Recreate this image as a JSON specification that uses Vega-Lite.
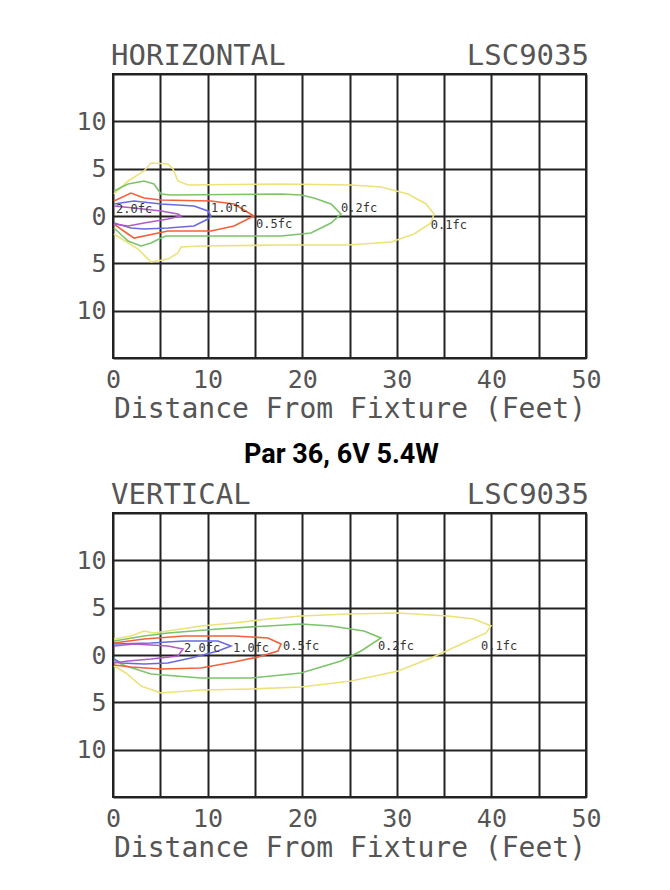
{
  "$schema": "https://vega.github.io/schema/vega-lite/v6.json",
  "background": "white",
  "padding": {"left": 74, "top": 41, "right": 10, "bottom": 10},
  "autosize": {"type": "pad"},
  "spacing": 155,
  "bounds": "flush",
  "config": {
    "view": {"stroke": "#222", "strokeWidth": 2},
    "axis": {"grid": true, "gridColor": "#222", "gridWidth": 2, "gridOpacity": 1, "domain": false, "ticks": false, "labelFont": "DejaVu Sans Mono", "labelFontSize": 25, "labelColor": "#555", "titleFont": "DejaVu Sans Mono", "titleFontSize": 28, "titleFontWeight": "normal", "titleColor": "#555"}
  },
  "datasets": {
    "h": [
      {"level":"0.1fc","i":0,"x":0.1,"y":2.33},{"level":"0.1fc","i":1,"x":1.59,"y":3.70},{"level":"0.1fc","i":2,"x":3.28,"y":4.76},{"level":"0.1fc","i":3,"x":4.02,"y":5.60},{"level":"0.1fc","i":4,"x":5.81,"y":5.50},{"level":"0.1fc","i":5,"x":6.34,"y":4.97},{"level":"0.1fc","i":6,"x":6.87,"y":3.70},{"level":"0.1fc","i":7,"x":7.93,"y":3.28},{"level":"0.1fc","i":8,"x":17.76,"y":3.38},{"level":"0.1fc","i":9,"x":25.16,"y":3.28},{"level":"0.1fc","i":10,"x":28.33,"y":3.07},{"level":"0.1fc","i":11,"x":31.18,"y":2.33},{"level":"0.1fc","i":12,"x":33.09,"y":1.27},{"level":"0.1fc","i":13,"x":33.93,"y":0.21},{"level":"0.1fc","i":14,"x":33.62,"y":-0.74},{"level":"0.1fc","i":15,"x":31.82,"y":-1.90},{"level":"0.1fc","i":16,"x":29.39,"y":-2.75},{"level":"0.1fc","i":17,"x":24.84,"y":-3.07},{"level":"0.1fc","i":18,"x":17.76,"y":-3.07},{"level":"0.1fc","i":19,"x":9.30,"y":-3.17},{"level":"0.1fc","i":20,"x":7.19,"y":-3.28},{"level":"0.1fc","i":21,"x":6.87,"y":-3.91},{"level":"0.1fc","i":22,"x":5.81,"y":-4.55},{"level":"0.1fc","i":23,"x":4.02,"y":-4.86},{"level":"0.1fc","i":24,"x":2.64,"y":-3.49},{"level":"0.1fc","i":25,"x":0.1,"y":-1.90},
      {"level":"0.2fc","i":0,"x":0.1,"y":2.64},{"level":"0.2fc","i":1,"x":1.59,"y":3.38},{"level":"0.2fc","i":2,"x":3.28,"y":3.70},{"level":"0.2fc","i":3,"x":4.33,"y":3.38},{"level":"0.2fc","i":4,"x":5.07,"y":2.33},{"level":"0.2fc","i":5,"x":6.13,"y":2.22},{"level":"0.2fc","i":6,"x":17.76,"y":2.33},{"level":"0.2fc","i":7,"x":19.87,"y":2.22},{"level":"0.2fc","i":8,"x":21.25,"y":1.90},{"level":"0.2fc","i":9,"x":23.04,"y":1.27},{"level":"0.2fc","i":10,"x":24.10,"y":0.21},{"level":"0.2fc","i":11,"x":23.04,"y":-0.74},{"level":"0.2fc","i":12,"x":20.93,"y":-1.80},{"level":"0.2fc","i":13,"x":17.76,"y":-2.11},{"level":"0.2fc","i":14,"x":5.60,"y":-2.11},{"level":"0.2fc","i":15,"x":5.07,"y":-2.33},{"level":"0.2fc","i":16,"x":4.02,"y":-2.85},{"level":"0.2fc","i":17,"x":2.96,"y":-3.17},{"level":"0.2fc","i":18,"x":1.59,"y":-2.64},{"level":"0.2fc","i":19,"x":0.1,"y":-1.27},
      {"level":"0.5fc","i":0,"x":0.1,"y":1.59},{"level":"0.5fc","i":1,"x":1.90,"y":2.43},{"level":"0.5fc","i":2,"x":3.28,"y":1.90},{"level":"0.5fc","i":3,"x":5.07,"y":1.69},{"level":"0.5fc","i":4,"x":10.36,"y":1.59},{"level":"0.5fc","i":5,"x":12.79,"y":1.27},{"level":"0.5fc","i":6,"x":14.90,"y":0},{"level":"0.5fc","i":7,"x":12.79,"y":-1.06},{"level":"0.5fc","i":8,"x":10.36,"y":-1.59},{"level":"0.5fc","i":9,"x":5.81,"y":-1.59},{"level":"0.5fc","i":10,"x":2.22,"y":-2.33},{"level":"0.5fc","i":11,"x":1.59,"y":-1.90},{"level":"0.5fc","i":12,"x":0.1,"y":-0.85},
      {"level":"1.0fc","i":0,"x":0.1,"y":1.27},{"level":"1.0fc","i":1,"x":2.22,"y":1.59},{"level":"1.0fc","i":2,"x":5.07,"y":1.27},{"level":"1.0fc","i":3,"x":8.56,"y":1.06},{"level":"1.0fc","i":4,"x":10.04,"y":0.53},{"level":"1.0fc","i":5,"x":10.36,"y":0},{"level":"1.0fc","i":6,"x":10.04,"y":-0.32},{"level":"1.0fc","i":7,"x":8.56,"y":-1.06},{"level":"1.0fc","i":8,"x":5.81,"y":-1.27},{"level":"1.0fc","i":9,"x":3.28,"y":-1.37},{"level":"1.0fc","i":10,"x":1.90,"y":-1.27},{"level":"1.0fc","i":11,"x":0.1,"y":-0.74},
      {"level":"2.0fc","i":0,"x":0.1,"y":1.06},{"level":"2.0fc","i":1,"x":2.22,"y":0.85},{"level":"2.0fc","i":2,"x":5.07,"y":0.53},{"level":"2.0fc","i":3,"x":6.87,"y":0.21},{"level":"2.0fc","i":4,"x":7.19,"y":0},{"level":"2.0fc","i":5,"x":5.81,"y":-0.32},{"level":"2.0fc","i":6,"x":3.28,"y":-0.74},{"level":"2.0fc","i":7,"x":1.59,"y":-1.06},{"level":"2.0fc","i":8,"x":0.1,"y":-0.85}
    ],
    "hl": [
      {"label":"2.0fc","x":0.32,"y":0.74},{"label":"1.0fc","x":10.36,"y":0.85},{"label":"0.5fc","x":15.12,"y":-0.85},{"label":"0.2fc","x":24.10,"y":0.85},{"label":"0.1fc","x":33.6,"y":-0.95}
    ],
    "v": [
      {"level":"0.1fc","i":0,"x":0.1,"y":1.69},{"level":"0.1fc","i":1,"x":1.90,"y":2.01},{"level":"0.1fc","i":2,"x":3.28,"y":2.54},{"level":"0.1fc","i":3,"x":4.33,"y":2.33},{"level":"0.1fc","i":4,"x":5.81,"y":2.54},{"level":"0.1fc","i":5,"x":9.30,"y":3.07},{"level":"0.1fc","i":6,"x":12.79,"y":3.38},{"level":"0.1fc","i":7,"x":16.38,"y":3.81},{"level":"0.1fc","i":8,"x":19.87,"y":4.12},{"level":"0.1fc","i":9,"x":24.84,"y":4.33},{"level":"0.1fc","i":10,"x":30.13,"y":4.44},{"level":"0.1fc","i":11,"x":35.41,"y":4.12},{"level":"0.1fc","i":12,"x":38.16,"y":3.81},{"level":"0.1fc","i":13,"x":39.96,"y":3.07},{"level":"0.1fc","i":14,"x":39.43,"y":2.33},{"level":"0.1fc","i":15,"x":37.53,"y":1.48},{"level":"0.1fc","i":16,"x":33.62,"y":-0.32},{"level":"0.1fc","i":17,"x":30.13,"y":-1.69},{"level":"0.1fc","i":18,"x":25.16,"y":-2.75},{"level":"0.1fc","i":19,"x":19.87,"y":-3.38},{"level":"0.1fc","i":20,"x":14.59,"y":-3.59},{"level":"0.1fc","i":21,"x":9.30,"y":-3.70},{"level":"0.1fc","i":22,"x":5.07,"y":-4.02},{"level":"0.1fc","i":23,"x":2.96,"y":-3.28},{"level":"0.1fc","i":24,"x":1.37,"y":-1.90},{"level":"0.1fc","i":25,"x":0.1,"y":-1.16},
      {"level":"0.2fc","i":0,"x":0.1,"y":1.48},{"level":"0.2fc","i":1,"x":3.28,"y":2.01},{"level":"0.2fc","i":2,"x":5.81,"y":2.33},{"level":"0.2fc","i":3,"x":11.10,"y":2.75},{"level":"0.2fc","i":4,"x":16.38,"y":3.07},{"level":"0.2fc","i":5,"x":19.87,"y":3.28},{"level":"0.2fc","i":6,"x":23.04,"y":3.07},{"level":"0.2fc","i":7,"x":26.53,"y":2.54},{"level":"0.2fc","i":8,"x":28.33,"y":1.80},{"level":"0.2fc","i":9,"x":26.22,"y":0.42},{"level":"0.2fc","i":10,"x":24.10,"y":-0.63},{"level":"0.2fc","i":11,"x":19.87,"y":-1.90},{"level":"0.2fc","i":12,"x":14.59,"y":-2.43},{"level":"0.2fc","i":13,"x":9.30,"y":-2.43},{"level":"0.2fc","i":14,"x":4.02,"y":-2.01},{"level":"0.2fc","i":15,"x":1.37,"y":-1.16},{"level":"0.2fc","i":16,"x":0.1,"y":-0.63},
      {"level":"0.5fc","i":0,"x":0.1,"y":1.27},{"level":"0.5fc","i":1,"x":3.28,"y":1.69},{"level":"0.5fc","i":2,"x":7.51,"y":2.01},{"level":"0.5fc","i":3,"x":12.79,"y":2.01},{"level":"0.5fc","i":4,"x":16.38,"y":1.80},{"level":"0.5fc","i":5,"x":17.76,"y":1.16},{"level":"0.5fc","i":6,"x":17.44,"y":0.42},{"level":"0.5fc","i":7,"x":15.33,"y":-0.21},{"level":"0.5fc","i":8,"x":12.79,"y":-0.74},{"level":"0.5fc","i":9,"x":9.30,"y":-1.37},{"level":"0.5fc","i":10,"x":5.07,"y":-1.48},{"level":"0.5fc","i":11,"x":1.90,"y":-1.27},{"level":"0.5fc","i":12,"x":0.1,"y":-1.06},
      {"level":"1.0fc","i":0,"x":0.1,"y":1.16},{"level":"1.0fc","i":1,"x":4.02,"y":1.27},{"level":"1.0fc","i":2,"x":7.51,"y":1.48},{"level":"1.0fc","i":3,"x":11.10,"y":1.48},{"level":"1.0fc","i":4,"x":12.47,"y":0.95},{"level":"1.0fc","i":5,"x":11.10,"y":0.42},{"level":"1.0fc","i":6,"x":8.25,"y":-0.32},{"level":"1.0fc","i":7,"x":5.81,"y":-0.85},{"level":"1.0fc","i":8,"x":3.28,"y":-0.95},{"level":"1.0fc","i":9,"x":0.85,"y":-0.85},{"level":"1.0fc","i":10,"x":0.1,"y":-0.42},
      {"level":"2.0fc","i":0,"x":0.1,"y":0.95},{"level":"2.0fc","i":1,"x":2.22,"y":1.16},{"level":"2.0fc","i":2,"x":5.81,"y":0.95},{"level":"2.0fc","i":3,"x":7.40,"y":0.63},{"level":"2.0fc","i":4,"x":6.87,"y":-0.11},{"level":"2.0fc","i":5,"x":4.02,"y":-0.42},{"level":"2.0fc","i":6,"x":1.59,"y":-0.63},{"level":"2.0fc","i":7,"x":0.1,"y":-0.85}
    ],
    "vl": [
      {"label":"2.0fc","x":7.51,"y":0.74},{"label":"1.0fc","x":12.68,"y":0.74},{"label":"0.5fc","x":17.97,"y":0.95},{"label":"0.2fc","x":28.0,"y":0.95},{"label":"0.1fc","x":38.9,"y":0.95}
    ]
  },
  "vconcat": [
    {
      "width": 473,
      "height": 284,
      "layer": [
        {
          "data": {"name": "h"},
          "mark": {"type": "line", "strokeWidth": 1.6},
          "encoding": {
            "x": {"field": "x", "type": "quantitative", "scale": {"domain": [0, 50], "nice": false}, "axis": {"values": [0,5,10,15,20,25,30,35,40,45,50], "labelExpr": "datum.value % 10 === 0 ? datum.label : ''", "title": "Distance From Fixture (Feet)", "labelFlush": false, "labelOverlap": false, "labelPadding": 9, "titlePadding": 3}},
            "y": {"field": "y", "type": "quantitative", "scale": {"domain": [-15, 15], "nice": false}, "axis": {"values": [-15,-10,-5,0,5,10,15], "labelExpr": "abs(datum.value) === 15 ? '' : '' + abs(datum.value)", "title": null, "labelPadding": 7, "labelFlush": false, "labelOverlap": false}},
            "color": {"field": "level", "type": "nominal", "scale": {"domain": ["0.1fc","0.2fc","0.5fc","1.0fc","2.0fc"], "range": ["#ece27a","#7cc46a","#f2603c","#6a6ae0","#b05cc8"]}, "legend": null},
            "order": {"field": "i", "type": "quantitative"}
          }
        },
        {
          "data": {"name": "hl"},
          "mark": {"type": "text", "align": "left", "baseline": "middle", "font": "DejaVu Sans Mono", "fontSize": 12, "color": "#333"},
          "encoding": {"x": {"field": "x", "type": "quantitative"}, "y": {"field": "y", "type": "quantitative"}, "text": {"field": "label"}}
        },
        {
          "data": {"values": [{}]},
          "mark": {"type": "text", "align": "left", "baseline": "alphabetic", "dy": -9, "dx": -2, "font": "DejaVu Sans Mono", "fontSize": 29, "color": "#555"},
          "encoding": {"x": {"datum": 0}, "y": {"datum": 15}, "text": {"value": "HORIZONTAL"}}
        },
        {
          "data": {"values": [{}]},
          "mark": {"type": "text", "align": "right", "baseline": "alphabetic", "dy": -9, "dx": 3, "font": "DejaVu Sans Mono", "fontSize": 29, "color": "#555"},
          "encoding": {"x": {"datum": 50}, "y": {"datum": 15}, "text": {"value": "LSC9035"}}
        }
      ]
    },
    {
      "width": 473,
      "height": 284,
      "title": {"text": "Par 36, 6V 5.4W", "font": "Roboto", "fontSize": 27, "fontWeight": "bold", "color": "#000", "anchor": "middle", "frame": "group", "baseline": "alphabetic", "offset": -9, "dx": -8},
      "layer": [
        {
          "data": {"name": "v"},
          "mark": {"type": "line", "strokeWidth": 1.6},
          "encoding": {
            "x": {"field": "x", "type": "quantitative", "scale": {"domain": [0, 50], "nice": false}, "axis": {"values": [0,5,10,15,20,25,30,35,40,45,50], "labelExpr": "datum.value % 10 === 0 ? datum.label : ''", "title": "Distance From Fixture (Feet)", "labelFlush": false, "labelOverlap": false, "labelPadding": 9, "titlePadding": 3}},
            "y": {"field": "y", "type": "quantitative", "scale": {"domain": [-15, 15], "nice": false}, "axis": {"values": [-15,-10,-5,0,5,10,15], "labelExpr": "abs(datum.value) === 15 ? '' : '' + abs(datum.value)", "title": null, "labelPadding": 7, "labelFlush": false, "labelOverlap": false}},
            "color": {"field": "level", "type": "nominal", "scale": {"domain": ["0.1fc","0.2fc","0.5fc","1.0fc","2.0fc"], "range": ["#ece27a","#7cc46a","#f2603c","#6a6ae0","#b05cc8"]}, "legend": null},
            "order": {"field": "i", "type": "quantitative"}
          }
        },
        {
          "data": {"name": "vl"},
          "mark": {"type": "text", "align": "left", "baseline": "middle", "font": "DejaVu Sans Mono", "fontSize": 12, "color": "#333"},
          "encoding": {"x": {"field": "x", "type": "quantitative"}, "y": {"field": "y", "type": "quantitative"}, "text": {"field": "label"}}
        },
        {
          "data": {"values": [{}]},
          "mark": {"type": "text", "align": "left", "baseline": "alphabetic", "dy": -9, "dx": -2, "font": "DejaVu Sans Mono", "fontSize": 29, "color": "#555"},
          "encoding": {"x": {"datum": 0}, "y": {"datum": 15}, "text": {"value": "VERTICAL"}}
        },
        {
          "data": {"values": [{}]},
          "mark": {"type": "text", "align": "right", "baseline": "alphabetic", "dy": -9, "dx": 3, "font": "DejaVu Sans Mono", "fontSize": 29, "color": "#555"},
          "encoding": {"x": {"datum": 50}, "y": {"datum": 15}, "text": {"value": "LSC9035"}}
        }
      ]
    }
  ]
}
